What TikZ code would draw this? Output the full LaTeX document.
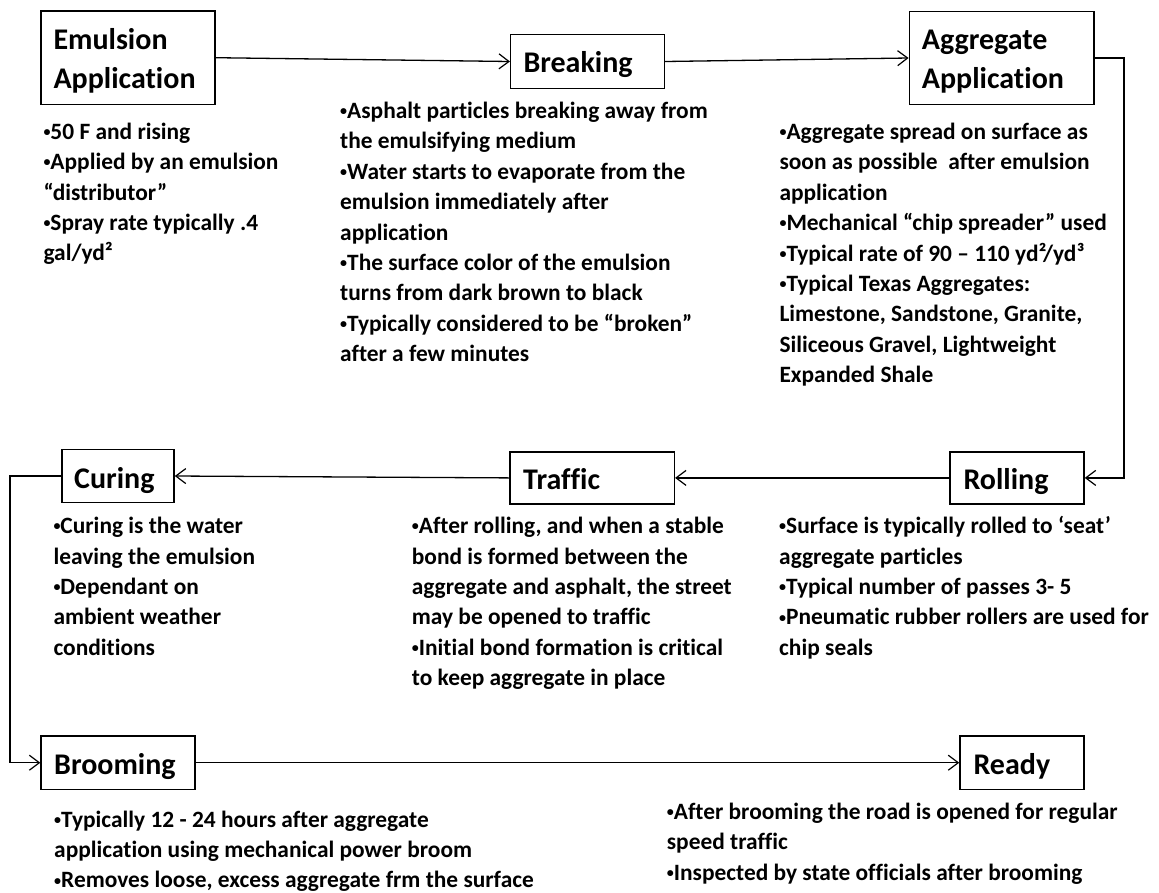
\documentclass[tikz,border=0pt]{standalone}
\usepackage{fontspec}
\setmainfont{Carlito}[Ligatures={TeX,NoCommon}]
\usetikzlibrary{arrows.meta}
\newcommand{\mylines}[1]{\parbox[t]{600pt}{\raggedright #1}}
\newcommand{\bul}{\raisebox{0.12em}{\scalebox{0.6}{•}}}
\begin{document}
\begin{tikzpicture}[x=1pt,y=-1pt,
  box/.style={draw=black, line width=1.5pt, rectangle, inner sep=0pt},
  ttl/.style={font=\bfseries\fontsize{30}{39}\selectfont, inner sep=0pt, anchor=base west},
  body/.style={font=\bfseries\fontsize{23.4}{30.4}\selectfont, inner sep=0pt, anchor=base west},
  arr/.style={line width=1.3pt, -{Straight Barb[length=10pt,width=15pt,line width=1.2pt]}}]
\fill[white] (0,0) rectangle (1159,892);
\useasboundingbox (0,0) rectangle (1159,892);

% boxes
\node[box, minimum width=174pt, minimum height=93.3pt] (emul) at (128,57.7) {};
\node[box, minimum width=153.6pt, minimum height=53.6pt] (brk) at (587.5,61.5) {};
\node[box, minimum width=184.7pt, minimum height=92.6pt] (agg) at (1001.7,58) {};
\node[box, minimum width=112.3pt, minimum height=53.4pt] (cur) at (117.9,476) {};
\node[box, minimum width=164.3pt, minimum height=52.3pt] (trf) at (592.2,477.9) {};
\node[box, minimum width=134pt, minimum height=52.3pt] (rol) at (1017,477.9) {};
\node[box, minimum width=153.7pt, minimum height=53.3pt] (brm) at (117.9,762.7) {};
\node[box, minimum width=124pt, minimum height=53.3pt] (rdy) at (1022,762.7) {};

% titles
\node[ttl] (emulT) at (53.3,49.3) {\mylines{Emulsion\\Application}};
\node[ttl] (brkT) at (523.3,72.7) {Breaking};
\node[ttl] (aggT) at (921.7,49.3) {\mylines{Aggregate\\Application}};
\node[ttl] (curT) at (74,488) {Curing};
\node[ttl] (trfT) at (523,489.5) {Traffic};
\node[ttl] (rolT) at (963.3,489.5) {Rolling};
\node[ttl] (brmT) at (54,774.5) {Brooming};
\node[ttl] (rdyT) at (973.3,774.5) {Ready};

% bullet texts
\node[body] (emulB) at (43.3,139.3) {\mylines{\bul 50 F and rising\\
\bul Applied by an emulsion\\
“distributor”\\
\bul Spray rate typically .4\\
gal/yd²}};
\node[body] (brkB) at (340,118.5) {\mylines{\bul Asphalt particles breaking away from\\
the emulsifying medium\\
\bul Water starts to evaporate from the\\
emulsion immediately after\\
application\\
\bul The surface color of the emulsion\\
turns from dark brown to black\\
\bul Typically considered to be “broken”\\
after a few minutes}};
\node[body] (aggB) at (779.3,139.5) {\mylines{\bul Aggregate spread on surface as\\
soon as possible\ \ after emulsion\\
application\\
\bul Mechanical “chip spreader” used\\
\bul Typical rate of 90 – 110 yd²/yd³\\
\bul Typical Texas Aggregates:\\
Limestone, Sandstone, Granite,\\
Siliceous Gravel, Lightweight\\
Expanded Shale}};
\node[body] (curB) at (53.3,533.7) {\mylines{\bul Curing is the water\\
leaving the emulsion\\
\bul Dependant on\\
ambient weather\\
conditions}};
\node[body] (trfB) at (411.7,533.7) {\mylines{\bul After rolling, and when a stable\\
bond is formed between the\\
aggregate and asphalt, the street\\
may be opened to traffic\\
\bul Initial bond formation is critical\\
to keep aggregate in place}};
\node[body] (rolB) at (779,533.7) {\mylines{\bul Surface is typically rolled to ‘seat’\\
aggregate particles\\
\bul Typical number of passes 3- 5\\
\bul Pneumatic rubber rollers are used for\\
chip seals}};
\node[body] (brmB) at (54,827) {\mylines{\bul Typically 12 - 24 hours after aggregate\\
application using mechanical power broom\\
\bul Removes loose, excess aggregate frm the surface}};
\node[body] (rdyB) at (666.7,819.3) {\mylines{\bul After brooming the road is opened for regular\\
speed traffic\\
\bul Inspected by state officials after brooming}};

% connectors
\coordinate (rx) at (1124,0);
\coordinate (lx) at (10,0);
\draw[arr] (emul.east) -- (brk.west);
\draw[arr] (brk.east) -- (agg.west);
\draw[arr] (agg.east) -- (agg.east -| rx) -- (rol.east -| rx) -- (rol.east);
\draw[arr] (rol.west) -- (trf.east);
\draw[arr] (trf.west) -- (cur.east);
\draw[arr] (cur.west) -- (cur.west -| lx) -- (brm.west -| lx) -- (brm.west);
\draw[arr] (brm.east) -- (rdy.west);
\end{tikzpicture}
\end{document}
